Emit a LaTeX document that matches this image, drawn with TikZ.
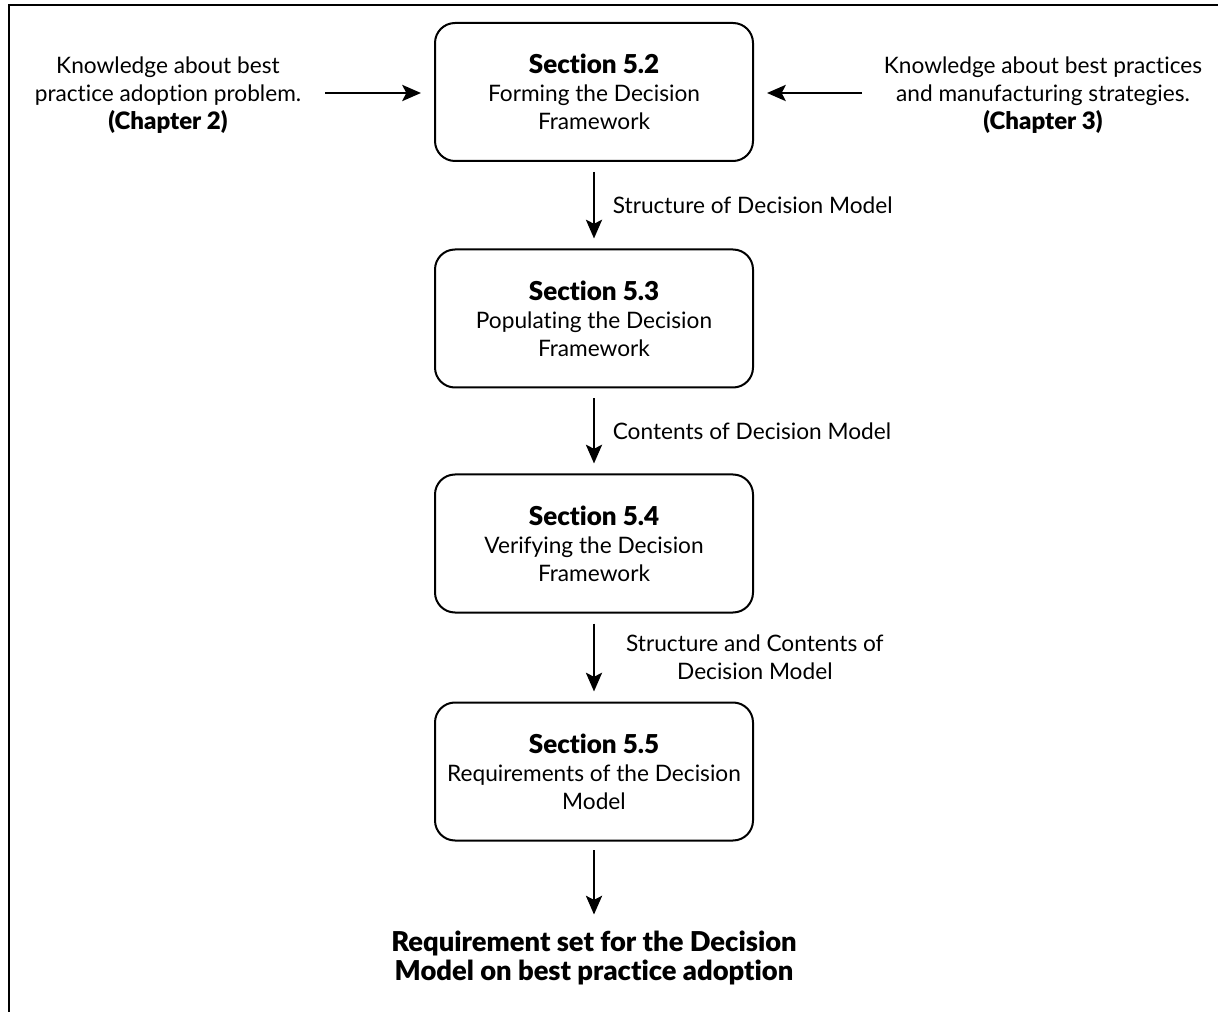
\documentclass[tikz,border=0pt]{standalone}
\usepackage{fontspec}
\setmainfont{Lato}[BoldFont={Lato Black},Ligatures=NoCommon]
\usetikzlibrary{arrows.meta}
\begin{document}
\begin{tikzpicture}[x=0.75pt,y=-0.75pt,
  section/.style={draw,line width=1.5pt,rounded corners=15pt,
    minimum width=238.5pt,minimum height=103.5pt,align=center,
    inner sep=0pt,font=\fontsize{17}{21}\selectfont},
  lbl/.style={align=center,inner sep=0pt,font=\fontsize{17}{21}\selectfont},
  flow/.style={line width=2.2pt,-{Stealth[length=14pt,width=12pt,inset=3pt]}},
  frame/.style={line width=2.2pt}]
\newcommand\headtext[1]{{\fontsize{19.5}{21}\selectfont\bfseries #1}}
\newcommand\chaptext[1]{{\fontsize{18}{21}\selectfont\bfseries #1}}
\useasboundingbox (0,0) rectangle (1218,1012);
% frame edges
\coordinate (fa) at (9,1012);
\coordinate (fb) at (9,5);
\coordinate (fc) at (1218,5);
\draw[frame] (fa) -- (fb) -- (fc);
% sections
\node[section] (s2) at (594,92) {\headtext{Section 5.2}\\Forming the Decision\\Framework};
\node[section] (s3) at (594,318.5) {\headtext{Section 5.3}\\Populating the Decision\\Framework};
\node[section] (s4) at (594,543.5) {\headtext{Section 5.4}\\Verifying the Decision\\Framework};
\node[section] (s5) at (594,771.5) {\headtext{Section 5.5}\\Requirements of the Decision\\Model};
% inputs
\node[lbl] (k2) at (168,95) {Knowledge about best\\practice adoption problem.\\\chaptext{(Chapter 2)}};
\node[lbl] (k3) at (1043,95) {Knowledge about best practices\\and manufacturing strategies.\\\chaptext{(Chapter 3)}};
% result
\node[lbl,font=\fontsize{20.5}{22}\selectfont\bfseries] (req) at (594,958) {Requirement set for the Decision\\Model on best practice adoption};
% connectors
\coordinate (a2s) at (325,93);
\coordinate (a2e) at (421,93);
\coordinate (a3s) at (862,93);
\coordinate (a3e) at (767,93);
\draw[flow] (a2s) -- (a2e);
\draw[flow] (a3s) -- (a3e);
\draw[flow] ([yshift=-7.5pt]s2.south) -- ([yshift=7.5pt]s3.north)
  node[midway,right=13pt,lbl] (l1) {Structure of Decision Model};
\draw[flow] ([yshift=-7.5pt]s3.south) -- ([yshift=7.5pt]s4.north)
  node[midway,right=13pt,lbl] (l2) {Contents of Decision Model};
\draw[flow] ([yshift=-7.5pt]s4.south) -- ([yshift=7.5pt]s5.north)
  node[midway,right=23pt,lbl] (l3) {Structure and Contents of\\Decision Model};
\draw[flow] ([yshift=-6.5pt]s5.south) -- ([yshift=12pt]req.north);
\end{tikzpicture}
\end{document}
